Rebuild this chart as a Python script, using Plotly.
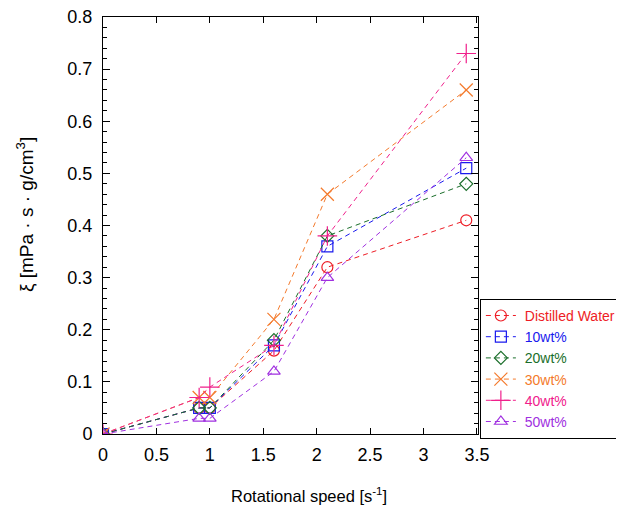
import plotly.graph_objects as go

speed = [0, 0.9, 1.0, 1.6, 2.1, 3.4]
series_names = ["Distilled Water", "10wt%", "20wt%", "30wt%", "40wt%", "50wt%"]
distilled = [0, 0.05, 0.05, 0.16, 0.32, 0.41]
wt10 = [0, 0.05, 0.05, 0.17, 0.36, 0.51]
wt20 = [0, 0.05, 0.05, 0.18, 0.38, 0.48]
wt30 = [0, 0.07, 0.07, 0.22, 0.46, 0.66]
wt40 = [0, 0.07, 0.09, 0.17, 0.38, 0.73]
wt50 = [0, 0.03, 0.03, 0.12, 0.30, 0.53]
x_ticks = [0, 0.5, 1, 1.5, 2, 2.5, 3, 3.5]
x_tick_labels = ["0", "0.5", "1", "1.5", "2", "2.5", "3", "3.5"]
y_ticks = [0, 0.1, 0.2, 0.3, 0.4, 0.5, 0.6, 0.7, 0.8]
y_tick_labels = ["0", "0.1", "0.2", "0.3", "0.4", "0.5", "0.6", "0.7", "0.8"]
x_title = "Rotational speed [s<sup>-1</sup>]"
y_title = "ξ [mPa · s · g/cm<sup>3</sup>]"

values = [distilled, wt10, wt20, wt30, wt40, wt50]
colors = ["#ee1c25", "#1a1aee", "#1a6e2a", "#f47a2c", "#f0208c", "#a030e0"]
symbols = ["circle-open", "square-open", "diamond-open", "x-thin-open", "cross-thin-open", "triangle-up-open"]
sizes = [11, 11, 10, 13, 14, 11]

FONT = "Liberation Sans, Arial"

fig = go.Figure()
for name, vals, c, s, sz in zip(series_names, values, colors, symbols, sizes):
    fig.add_trace(go.Scatter(
        x=speed, y=vals, mode="lines+markers",
        name=f'<span style="color:{c}">&nbsp;{name}</span>',
        line=dict(color=c, width=1, dash="5px,4px"),
        marker=dict(symbol=s, size=sz, color=c, line=dict(color=c, width=1.2)),
    ))

axis_common = dict(
    showline=True, linecolor="black", linewidth=1, mirror="ticks",
    ticks="inside", tickcolor="black", showgrid=False, zeroline=False,
    tickfont=dict(family=FONT, size=18, color="black"),
    ticklabeloverflow="allow",
)

fig.update_xaxes(
    range=[0, 3.51], tickvals=x_ticks, ticktext=x_tick_labels, ticklen=6,
    ticklabelstandoff=4,
    **axis_common,
)
fig.update_yaxes(
    range=[0, 0.8], tickvals=y_ticks, ticktext=y_tick_labels, ticklen=7,
    ticklabelstandoff=6,
    minor=dict(ticks="inside", ticklen=4, tickcolor="black", dtick=0.02, showgrid=False),
    **axis_common,
)

fig.add_annotation(
    text=x_title, xref="paper", yref="paper", x=0.549, y=-0.146,
    xanchor="center", yanchor="middle", showarrow=False,
    font=dict(family=FONT, size=16.5, color="black"),
)
fig.add_annotation(
    text=y_title, xref="paper", yref="paper", x=-0.208, y=0.525,
    xanchor="center", yanchor="middle", showarrow=False, textangle=-90,
    font=dict(family=FONT, size=19, color="black"),
)

fig.update_layout(
    width=624, height=509,
    margin=dict(l=95, r=154, t=9, b=83, autoexpand=False),
    plot_bgcolor="white", paper_bgcolor="white",
    legend=dict(
        x=1.005, y=0.324, xanchor="left", yanchor="top",
        bordercolor="black", borderwidth=1, bgcolor="white",
        font=dict(family=FONT, size=14),
        tracegroupgap=0,
    ),
    showlegend=True,
)

fig.write_html("out.html")
